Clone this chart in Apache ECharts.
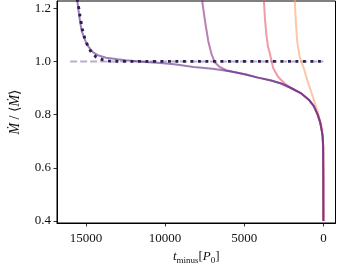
<!DOCTYPE html>
<html><head><meta charset="utf-8">
<script src="https://cdn.jsdelivr.net/npm/echarts@6/dist/echarts.min.js"></script>
<style>html,body{margin:0;padding:0;background:#fff}#c{width:338px;height:270px}</style>
</head><body><div id="c"></div>
<script>
// Tick values
const xTicks = [15000, 10000, 5000, 0];
const yTicks = [0.4, 0.6, 0.8, 1.0, 1.2];

// Main (earliest-start) track: [t_minus, Mdot/<Mdot>]
const trackA = [[15632,1.26],[15535,1.221],[15400,1.16],[15270,1.114],[15100,1.087],[14963,1.066],[14750,1.048],[14551,1.034],[14200,1.022],[13733,1.014],[13000,1.008],[12500,1.004],[11273,0.998],[10300,0.994],[9428,0.989],[8198,0.979],[7000,0.972],[5738,0.961],[4900,0.951],[4200,0.940],[3300,0.928],[2663,0.917],[2048,0.900],[1433,0.881],[922,0.856],[615,0.833],[369,0.801],[203,0.771],[98,0.738],[50,0.72],[15,0.68],[3,0.55],[0,0.40]];
// Later tracks (their own start, then joining the common tail)
const trackB = [[7680,1.26],[7645,1.221],[7478,1.151],[7275,1.077],[7073,1.028],[6863,0.997],[6556,0.979],[6150,0.967],[5738,0.961],[4900,0.951],[4200,0.940],[3300,0.928],[2663,0.917],[2048,0.900],[1433,0.881],[922,0.856],[615,0.833],[369,0.801],[203,0.771],[98,0.738],[50,0.72],[15,0.68],[3,0.55],[0,0.40]];
const trackC = [[3780,1.26],[3752,1.221],[3690,1.16],[3600,1.10],[3500,1.055],[3382,1.03],[3173,0.975],[2866,0.942],[2460,0.918],[2048,0.900],[1433,0.881],[922,0.856],[615,0.833],[369,0.801],[203,0.771],[98,0.738],[50,0.72],[15,0.68],[3,0.55],[0,0.40]];
const trackD = [[1820,1.26],[1802,1.221],[1740,1.151],[1661,1.077],[1494,1.015],[1230,0.973],[1021,0.930],[713,0.875],[510,0.838],[369,0.813],[203,0.776],[98,0.752],[50,0.72],[15,0.68],[3,0.55],[0,0.40]];
// Model (dotted) and reference level (dashed)
const model = [[15560,1.235],[15474,1.207],[15375,1.170],[15271,1.133],[15166,1.102],[15006,1.077],[14859,1.053],[14656,1.034],[14348,1.016],[13936,1.006],[13530,1.001],[12800,1.0],[0,1.0]];
const refLevel = [[16000,1.0],[0,1.0]];

const serif = "'Liberation Serif','DejaVu Serif',serif";
const chart = echarts.init(document.getElementById('c'), null, {renderer:'canvas'});
function line(data, color, op, z, extra) {
  return Object.assign({type:'line', data, showSymbol:false, symbol:'none', z,
    lineStyle:{color, width:2, opacity:op}, clip:true, animation:false}, extra||{});
}
chart.setOption({
  animation:false,
  grid:{left:50.5, right:2.5, top:1, bottom:43, show:true, borderColor:'#000', borderWidth:1, backgroundColor:'transparent'},
  xAxis:{type:'value', inverse:true, min:-765, max:16831,
    axisLine:{show:true, onZero:false, lineStyle:{color:'#000', width:1}},
    axisTick:{show:true, length:3.5, inside:false, customValues:xTicks, lineStyle:{color:'#000', width:0.8}},
    axisLabel:{customValues:xTicks, margin:9, color:'#111', fontFamily:serif, fontSize:13, formatter:v=>String(v)},
    splitLine:{show:false},
    name:'{i|t}{s|minus}{n|[}{i|P}{s|0}{n|]}', nameLocation:'middle', nameGap:26,
    nameTextStyle:{rich:{
      i:{fontFamily:serif, fontStyle:'italic', fontSize:13, color:'#111', verticalAlign:'middle'},
      n:{fontFamily:serif, fontSize:13, color:'#111', verticalAlign:'middle'},
      s:{fontFamily:serif, fontSize:9, color:'#111', padding:[7,0,0,0], verticalAlign:'middle'}
    }}
  },
  yAxis:{type:'value', min:0.3926, max:1.227,
    axisLine:{show:true, onZero:false, lineStyle:{color:'#000', width:1}},
    axisTick:{show:true, length:3.5, customValues:yTicks, lineStyle:{color:'#000', width:0.8}},
    axisLabel:{customValues:yTicks, margin:6, color:'#111', fontFamily:serif, fontSize:13, formatter:v=>v.toFixed(1)},
    splitLine:{show:false},
    name:'{i|Ṁ}{n| / ⟨}{i|Ṁ}{n|⟩}', nameLocation:'middle', nameGap:35, nameRotate:90,
    nameTextStyle:{rich:{
      i:{fontFamily:serif, fontStyle:'italic', fontSize:14, color:'#111'},
      n:{fontFamily:serif, fontSize:14, color:'#111'}
    }}
  },
  series:[
    line(refLevel, '#b5b0c5', 1, 1, {lineStyle:{color:'#b5b0c5', width:2, type:[7,3]}}),
    line(trackD, '#fe9f6d', 0.6, 2),
    line(trackC, '#e8596a', 0.6, 3),
    line(trackB, '#8c2981', 0.6, 4),
    line(trackA, '#5a2a88', 0.6, 5),
    line(model, '#2b1d52', 1, 6, {lineStyle:{color:'#2b1d52', width:2.9, type:[2.9,4.6], cap:'butt'}})
  ]
});
</script></body></html>
